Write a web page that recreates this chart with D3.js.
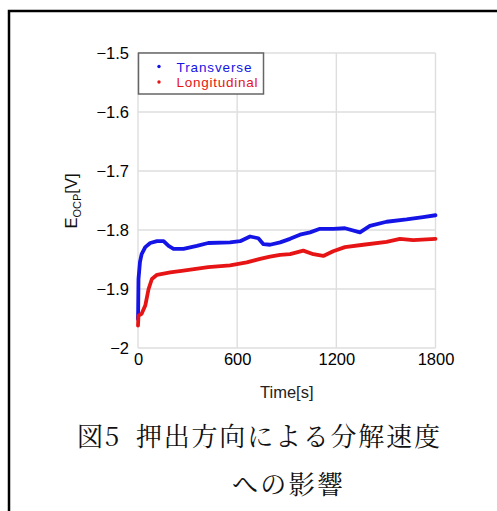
<!DOCTYPE html>
<html lang="ja">
<head>
<meta charset="UTF-8">
<title>図5 押出方向による分解速度への影響</title>
<script src="https://d3js.org/d3.v7.min.js"></script>
<style>
  body { margin: 0; background: #fff; }
  svg { display: block; }
</style>
</head>
<body>
<svg id="canvas" width="497" height="511"></svg>
<script>
// time [s], potential [V]
const transverseTime = [0, 1, 3, 12, 22, 44, 74, 115, 155, 185, 215, 275, 356, 425, 557, 618, 678, 728, 759, 799, 860, 920, 980, 1041, 1101, 1181, 1252, 1343, 1403, 1504, 1625, 1725, 1800];
const transverseE    = [-1.951, -1.935, -1.883, -1.854, -1.841, -1.829, -1.822, -1.819, -1.819, -1.827, -1.832, -1.832, -1.827, -1.822, -1.821, -1.819, -1.811, -1.814, -1.824, -1.825, -1.821, -1.815, -1.808, -1.804, -1.798, -1.798, -1.797, -1.804, -1.793, -1.786, -1.782, -1.778, -1.775];
const longitudinalTime = [0, 3, 22, 44, 64, 84, 115, 195, 275, 425, 557, 658, 739, 799, 860, 920, 1000, 1061, 1121, 1181, 1252, 1363, 1504, 1585, 1665, 1800];
const longitudinalE    = [-1.962, -1.945, -1.942, -1.928, -1.900, -1.883, -1.876, -1.872, -1.869, -1.863, -1.860, -1.855, -1.849, -1.845, -1.842, -1.841, -1.835, -1.841, -1.844, -1.836, -1.829, -1.825, -1.820, -1.815, -1.817, -1.815];

const xTicks = [0, 600, 1200, 1800];
const yTicks = [-2, -1.9, -1.8, -1.7, -1.6, -1.5];
const yTickLabels = ["\u22122", "\u22121.9", "\u22121.8", "\u22121.7", "\u22121.6", "\u22121.5"];
const seriesNames = ["Transverse", "Longitudinal"];
const seriesColors = ["#1414e6", "#e61414"];

const sans = '"Liberation Sans", Arial, sans-serif';
const svg = d3.select('#canvas');

// outer frame of the figure (runs off the right and bottom)
svg.append('rect')
    .attr('x', 9).attr('y', 11)
    .attr('width', 520).attr('height', 540)
    .attr('fill', 'none')
    .attr('stroke', '#000')
    .attr('stroke-width', 2.5);

const x = d3.scaleLinear().domain([0, 1800]).range([138, 435.5]);
const y = d3.scaleLinear().domain([-2, -1.5]).range([348, 53]);

// grid
const grid = svg.append('g');
grid.selectAll('line.gx')
    .data(xTicks)
    .enter().append('line')
    .attr('x1', d => x(d)).attr('x2', d => x(d))
    .attr('y1', y(-2)).attr('y2', y(-1.5))
    .attr('stroke', '#dedede').attr('stroke-width', 1.4);
grid.selectAll('line.gy')
    .data(yTicks)
    .enter().append('line')
    .attr('x1', x(0)).attr('x2', x(1800))
    .attr('y1', d => y(d)).attr('y2', d => y(d))
    .attr('stroke', '#dedede').attr('stroke-width', 1.4);

// axes
const xAxis = svg.append('g')
    .attr('transform', 'translate(0,' + y(-2) + ')')
    .call(d3.axisBottom(x).tickValues(xTicks).tickSize(0).tickPadding(5)
        .tickFormat(d3.format('d')));
const yAxis = svg.append('g')
    .attr('transform', 'translate(' + x(0) + ',0)')
    .call(d3.axisLeft(y).tickValues(yTicks).tickSize(0).tickPadding(9)
        .tickFormat((d, i) => yTickLabels[i]));
xAxis.select('.domain').remove();
yAxis.select('.domain').remove();
svg.selectAll('.tick text')
    .attr('font-family', sans)
    .attr('font-size', 16.5)
    .attr('fill', '#000');

// data
const line = d3.line().x(d => x(d[0])).y(d => y(d[1]));
const series = [
    d3.zip(transverseTime, transverseE),
    d3.zip(longitudinalTime, longitudinalE)
];
series.forEach((s, i) => {
    svg.append('path')
        .datum(s)
        .attr('d', line)
        .attr('fill', 'none')
        .attr('stroke', seriesColors[i])
        .attr('stroke-width', 3.8)
        .attr('stroke-linejoin', 'round')
        .attr('stroke-linecap', 'round');
});

// legend
const legendWidths = [75, 81];
const legend = svg.append('g');
legend.append('rect')
    .attr('x', 138.5).attr('y', 53)
    .attr('width', 125).attr('height', 41)
    .attr('fill', '#fff')
    .attr('stroke', '#666')
    .attr('stroke-width', 1.5);
seriesNames.forEach((name, i) => {
    legend.append('circle')
        .attr('cx', 159).attr('cy', 66.5 + i * 15.5)
        .attr('r', 1.7)
        .attr('fill', seriesColors[i]);
    legend.append('text')
        .attr('x', 176.5).attr('y', 71.5 + i * 15.5)
        .attr('font-family', sans)
        .attr('font-size', 13.5)
        .attr('fill', seriesColors[i])
        .attr('textLength', legendWidths[i])
        .attr('lengthAdjust', 'spacing')
        .text(name);
});

// axis titles
svg.append('text')
    .attr('x', x(900)).attr('y', 398)
    .attr('text-anchor', 'middle')
    .attr('font-family', sans)
    .attr('font-size', 16.5)
    .attr('fill', '#222')
    .text('Time[s]');

const yTitle = svg.append('text')
    .attr('transform', 'translate(77,201) rotate(-90)')
    .attr('text-anchor', 'middle')
    .attr('font-family', sans)
    .attr('font-size', 16.5)
    .attr('fill', '#111');
yTitle.append('tspan').text('E');
yTitle.append('tspan').attr('font-size', 11).attr('dy', 4).text('OCP');
yTitle.append('tspan').attr('dy', -4).text('[V]');

// caption
const serif = '"Noto Serif CJK JP", "Liberation Serif", "Noto Sans CJK JP", serif';
svg.append('text')
    .attr('x', 77).attr('y', 446)
    .attr('font-family', serif)
    .attr('font-size', 26)
    .attr('fill', '#111')
    .attr('textLength', 363)
    .attr('lengthAdjust', 'spacing')
    .text('図5\u2002押出方向による分解速度');
svg.append('text')
    .attr('x', 232).attr('y', 494)
    .attr('font-family', serif)
    .attr('font-size', 26)
    .attr('fill', '#111')
    .attr('textLength', 111)
    .attr('lengthAdjust', 'spacing')
    .text('への影響');
</script>
</body>
</html>
